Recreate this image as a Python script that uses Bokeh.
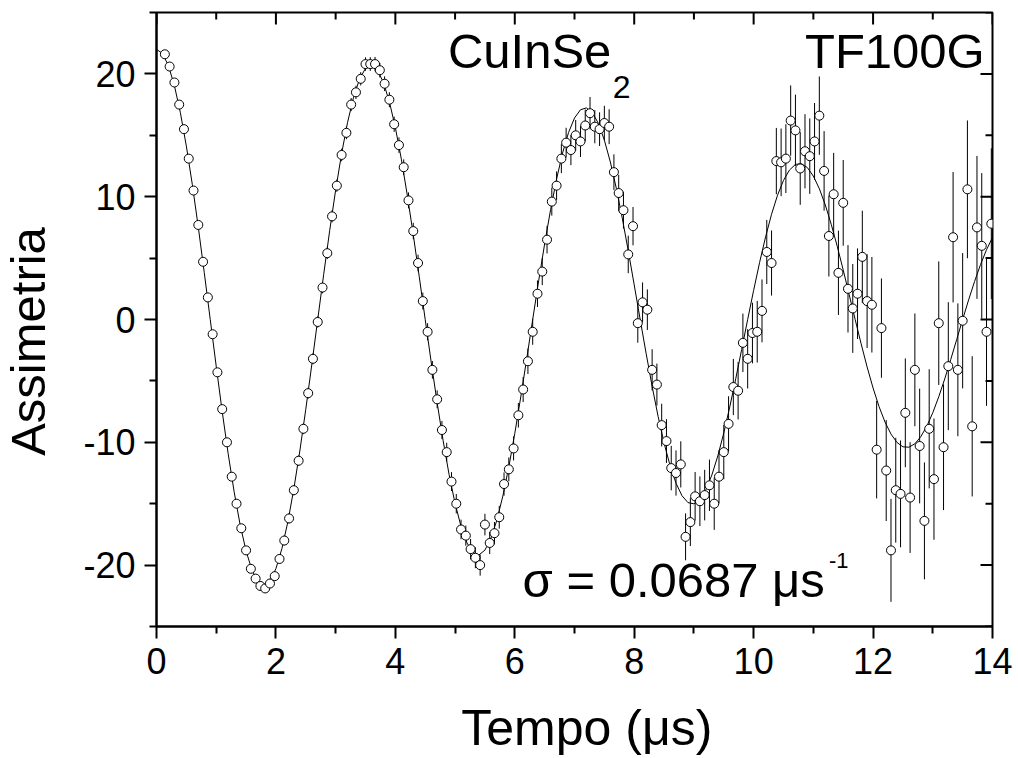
import math
from bokeh.plotting import figure
from bokeh.layouts import row, column
from bokeh.models import Range1d, FixedTicker, Label, ColumnDataSource
from bokeh.embed import file_html
from bokeh.resources import INLINE

# ---------------- data ----------------
time_us = [
    0.14, 0.22, 0.30, 0.38, 0.46, 0.54, 0.62, 0.70, 0.78, 0.86, 0.94, 1.02, 1.10, 1.18, 1.26,
    1.34, 1.42, 1.50, 1.58, 1.66, 1.74, 1.82, 1.90, 1.98, 2.06, 2.14, 2.22, 2.30, 2.38, 2.46,
    2.54, 2.62, 2.70, 2.78, 2.86, 2.94, 3.02, 3.10, 3.18, 3.26, 3.34, 3.42, 3.50, 3.58, 3.66,
    3.74, 3.82, 3.90, 3.98, 4.06, 4.14, 4.22, 4.30, 4.38, 4.46, 4.54, 4.62, 4.70, 4.78,
    4.86, 4.94, 5.02, 5.10, 5.18, 5.26, 5.34, 5.42, 5.50, 5.58, 5.66, 5.74, 5.82, 5.90, 5.98,
    6.06, 6.14, 6.22, 6.30, 6.38, 6.46, 6.54, 6.62, 6.70, 6.78, 6.86, 6.94, 7.02, 7.10,
    7.18, 7.26, 7.34, 7.42, 7.50, 7.58, 7.66, 7.74, 7.82, 7.90, 7.98, 8.06, 8.14, 8.22, 8.30,
    8.38, 8.46, 8.54, 8.62, 8.70, 8.78, 8.86, 8.94, 9.02, 9.10, 9.18, 9.26, 9.34, 9.42,
    9.50, 9.58, 9.66, 9.74, 9.82, 9.90, 9.98, 10.06, 10.14, 10.22, 10.30, 10.38, 10.46, 10.54, 10.62,
    10.70, 10.78, 10.86, 10.94, 11.02, 11.10, 11.18, 11.26, 11.34, 11.42, 11.50, 11.58, 11.66, 11.74,
    11.82, 11.90, 11.98, 12.06, 12.14, 12.22, 12.30, 12.38, 12.46, 12.54, 12.62, 12.70, 12.78, 12.86,
    12.94, 13.02, 13.10, 13.18, 13.26, 13.34, 13.42, 13.50, 13.58, 13.66, 13.74, 13.82, 13.90, 13.98,
]
asymmetry = [
    21.6, 20.6, 19.3, 17.5, 15.5, 13.1, 10.5, 7.7, 4.7, 1.8, -1.2, -4.3, -7.3, -10.0, -12.8,
    -15.0, -17.0, -18.8, -20.3, -21.1, -21.7, -21.9, -21.5, -20.9, -19.5, -18.0, -16.2, -13.9, -11.5, -8.9,
    -6.0, -3.2, -0.2, 2.6, 5.4, 8.4, 10.9, 13.4, 15.2, 17.5, 18.5, 19.6, 20.8, 20.8, 20.8,
    20.3, 19.2, 17.9, 15.9, 14.2, 12.4, 9.7, 7.2, 4.6, 1.5, -1.0, -4.1, -6.5, -9.0,
    -10.8, -13.2, -15.0, -17.1, -17.6, -18.7, -19.4, -20.0, -16.7, -18.2, -17.4, -16.1, -13.4, -12.2, -10.5,
    -7.8, -5.7, -3.4, -1.0, 2.1, 3.9, 6.5, 9.6, 10.9, 13.1, 14.4, 13.8, 15.0, 14.5,
    15.8, 16.8, 15.7, 15.5, 16.0, 15.7, 12.0, 10.3, 8.9, 5.3, 7.6, -0.3, 1.4, 0.8, -4.1,
    -5.3, -8.6, -9.9, -12.1, -12.5, -11.8, -17.7, -16.5, -14.4, -14.8, -14.3, -13.5, -15.0, -12.8,
    -10.8, -8.5, -5.5, -5.8, -1.9, -3.2, -1.1, -1.0, 0.7, 5.5, 4.6, 12.9, 12.8, 13.1, 16.2,
    15.4, 12.3, 13.7, 13.3, 14.5, 16.6, 12.1, 6.8, 10.2, 3.8, 9.5, 2.5, 0.9, 2.1,
    5.1, 1.5, 1.2, -10.6, -0.7, -12.3, -18.8, -13.9, -14.2, -7.6, -14.5, -4.1, -10.3, -16.4,
    -8.9, -13.0, -0.3, -10.4, -3.8, 6.7, -4.1, -0.1, 10.6, -8.7, 7.5, 6.0, -1.0, 7.8,
]
asym_error = [
    0.26, 0.26, 0.27, 0.27, 0.28, 0.28, 0.29, 0.29, 0.30, 0.30, 0.31, 0.31, 0.32, 0.33, 0.33,
    0.34, 0.34, 0.35, 0.36, 0.36, 0.37, 0.38, 0.38, 0.39, 0.40, 0.41, 0.41, 0.42, 0.43, 0.44,
    0.45, 0.45, 0.46, 0.47, 0.48, 0.49, 0.50, 0.51, 0.52, 0.53, 0.54, 0.54, 0.55, 0.56, 0.58,
    0.59, 0.60, 0.61, 0.62, 0.63, 0.64, 0.65, 0.67, 0.68, 0.69, 0.70, 0.72, 0.73, 0.74,
    0.76, 0.77, 0.79, 0.80, 0.82, 0.83, 0.85, 0.86, 0.88, 0.90, 0.91, 0.93, 0.95, 0.97, 0.98,
    1.00, 1.02, 1.04, 1.06, 1.08, 1.10, 1.12, 1.14, 1.16, 1.18, 1.21, 1.23, 1.25, 1.27,
    1.30, 1.32, 1.35, 1.37, 1.40, 1.42, 1.45, 1.48, 1.50, 1.53, 1.56, 1.59, 1.62, 1.65, 1.68,
    1.71, 1.74, 1.78, 1.81, 1.84, 1.88, 1.91, 1.95, 1.98, 2.02, 2.06, 2.09, 2.13, 2.17,
    2.21, 2.25, 2.29, 2.34, 2.38, 2.42, 2.47, 2.51, 2.56, 2.61, 2.65, 2.70, 2.75, 2.80, 2.86,
    2.91, 2.96, 3.02, 3.07, 3.13, 3.19, 3.24, 3.30, 3.37, 3.43, 3.49, 3.56, 3.62, 3.69,
    3.76, 3.82, 3.89, 3.97, 4.04, 4.11, 4.19, 4.27, 4.35, 4.43, 4.51, 4.59, 4.67, 4.76,
    4.85, 4.94, 5.03, 5.12, 5.21, 5.31, 5.41, 5.51, 5.61, 5.71, 5.82, 5.92, 6.03, 6.14,
]
fit_time = [
    0.0, 0.1, 0.2, 0.3, 0.4, 0.5, 0.6, 0.7, 0.8, 0.9, 1.0, 1.1, 1.2, 1.3, 1.4, 1.5, 1.6, 1.7, 1.8, 1.9,
    2.0, 2.1, 2.2, 2.3, 2.4, 2.5, 2.6, 2.7, 2.8, 2.9, 3.0, 3.1, 3.2, 3.3, 3.4, 3.5, 3.6, 3.7, 3.8, 3.9,
    4.0, 4.1, 4.2, 4.3, 4.4, 4.5, 4.6, 4.7, 4.8, 4.9, 5.0, 5.1, 5.2, 5.3, 5.4, 5.5, 5.6, 5.7, 5.8, 5.9,
    6.0, 6.1, 6.2, 6.3, 6.4, 6.5, 6.6, 6.7, 6.8, 6.9, 7.0, 7.1, 7.2, 7.3, 7.4, 7.5, 7.6, 7.7, 7.8, 7.9,
    8.0, 8.1, 8.2, 8.3, 8.4, 8.5, 8.6, 8.7, 8.8, 8.9, 9.0, 9.1, 9.2, 9.3, 9.4, 9.5, 9.6, 9.7, 9.8, 9.9,
    10.0, 10.1, 10.2, 10.3, 10.4, 10.5, 10.6, 10.7, 10.8, 10.9, 11.0, 11.1, 11.2, 11.3, 11.4, 11.5,
    11.6, 11.7, 11.8, 11.9, 12.0, 12.1, 12.2, 12.3, 12.4, 12.5, 12.6, 12.7, 12.8, 12.9, 13.0, 13.1,
    13.2, 13.3, 13.4, 13.5, 13.6, 13.7, 13.8, 13.9, 14.0,
]
fit_asym = [
    22.00, 21.66, 20.67, 19.04, 16.84, 14.12, 10.98, 7.51, 3.81, 0.00,
    -3.80, -7.48, -10.93, -14.03, -16.70, -18.85, -20.43, -21.37, -21.67, -21.30,
    -20.29, -18.66, -16.47, -13.79, -10.71, -7.31, -3.70, 0.00, 3.68, 7.23,
    10.54, 13.51, 16.06, 18.10, 19.58, 20.45, 20.70, 20.31, 19.31, 17.73,
    15.63, 13.06, 10.12, 6.90, 3.49, 0.00, -3.46, -6.78, -9.87, -12.63,
    -14.98, -16.85, -18.20, -18.98, -19.17, -18.78, -17.83, -16.34, -14.38, -12.00,
    -9.28, -6.31, -3.19, 0.00, 3.15, 6.16, 8.96, 11.44, 13.55, 15.22,
    16.41, 17.08, 17.23, 16.85, 15.97, 14.61, 12.83, 10.69, 8.25, 5.60,
    2.82, 0.00, -2.78, -5.44, -7.89, -10.06, -11.89, -13.33, -14.35, -14.91,
    -15.01, -14.66, -13.87, -12.67, -11.11, -9.24, -7.12, -4.83, -2.43, 0.00,
    2.38, 4.65, 6.73, 8.57, 10.12, 11.33, 12.17, 12.63, 12.69, 12.37,
    11.68, 10.65, 9.33, 7.74, 5.96, 4.03, 2.02, 0.00, -1.98, -3.86,
    -5.58, -7.09, -8.35, -9.33, -10.01, -10.37, -10.40, -10.12, -9.54, -8.69,
    -7.59, -6.29, -4.84, -3.27, -1.64, 0.00, 1.60, 3.10, 4.48, 5.68, 6.68,
]
x_ticks = [0, 2, 4, 6, 8, 10, 12, 14]
x_tick_labels = ["0", "2", "4", "6", "8", "10", "12", "14"]
x_minor = [1, 3, 5, 7, 9, 11, 13]
y_ticks = [-20, -10, 0, 10, 20]
y_tick_labels = ["-20", "-10", "0", "10", "20"]
y_minor = [-25, -15, -5, 5, 15, 25]
x_limits = [0, 14]
y_limits = [-25, 25]

x_title = "Tempo (μs)"
y_title = "Assimetria"
sample_text = "CuInSe"
sample_sub = "2"
field_text = "TF100G"
sigma_text = "σ = 0.0687 μs"
sigma_sup = "-1"

FONT = "Liberation Sans"

# page geometry (pixels)
PAGE_W, PAGE_H = 1018, 758
YLAB_W = 80            # strip on the left holding the y title
XLAB_H = 60            # strip at the bottom holding the x title
MAIN_W = PAGE_W - YLAB_W
MAIN_H = PAGE_H - XLAB_H

# ---------------- main figure ----------------
p = figure(width=MAIN_W, height=MAIN_H,
           x_range=Range1d(*x_limits), y_range=Range1d(*y_limits),
           output_backend="svg", toolbar_location=None,
           min_border_left=155 - YLAB_W, min_border_right=26,
           min_border_top=12, min_border_bottom=MAIN_H - 626)
p.outline_line_color = "black"
p.outline_line_width = 2
p.xgrid.visible = False
p.ygrid.visible = False
p.background_fill_color = "white"
p.border_fill_color = "white"

def style_axis(ax, ticks, minor, labels, standoff):
    ax.ticker = FixedTicker(ticks=ticks, minor_ticks=minor)
    ax.axis_line_width = 2
    ax.axis_line_color = "black"
    ax.major_tick_line_width = 2
    ax.minor_tick_line_width = 2
    ax.major_tick_line_color = "black"
    ax.minor_tick_line_color = "black"
    ax.major_tick_out, ax.major_tick_in = 12, 0
    ax.minor_tick_out, ax.minor_tick_in = 7, 0
    ax.major_label_text_font = FONT
    ax.major_label_text_font_size = "36px"
    ax.major_label_text_color = "black"
    ax.major_label_standoff = standoff
    ax.major_label_overrides = {t: s for t, s in zip(ticks, labels)}

style_axis(p.xaxis[0], x_ticks, x_minor, x_tick_labels, standoff=9)
style_axis(p.yaxis[0], y_ticks, y_minor, y_tick_labels, standoff=9)

# inward ticks on the top and right frame edges (half of each dash is clipped by the frame)
top_y = y_limits[1]
right_x = x_limits[1]
p.scatter(x=x_ticks, y=[top_y] * len(x_ticks), marker="dash", angle=math.pi / 2,
          size=24, line_color="black", line_width=2)
p.scatter(x=x_minor, y=[top_y] * len(x_minor), marker="dash", angle=math.pi / 2,
          size=14, line_color="black", line_width=2)
p.scatter(x=[right_x] * len(y_ticks), y=y_ticks, marker="dash",
          size=24, line_color="black", line_width=2)
p.scatter(x=[right_x] * len(y_minor), y=y_minor, marker="dash",
          size=14, line_color="black", line_width=2)

# data with error bars and fitted curve
src = ColumnDataSource(dict(
    t=time_us, a=asymmetry,
    lo=[a - e for a, e in zip(asymmetry, asym_error)],
    hi=[a + e for a, e in zip(asymmetry, asym_error)],
))
p.segment(x0="t", y0="lo", x1="t", y1="hi", source=src, line_color="black", line_width=1)
p.line(fit_time, fit_asym, line_color="black", line_width=1)
p.scatter(x="t", y="a", source=src, marker="circle", size=9,
          fill_color="white", line_color="black", line_width=1)

def add_label(fig, x, y, text, size, align="left", angle=0.0):
    fig.add_layout(Label(x=x, y=y, text=text, text_font=FONT, text_font_size=size,
                         text_align=align, text_baseline="alphabetic", angle=angle,
                         text_color="black"))

add_label(p, 4.88, 21.9, sample_text, "49px")
add_label(p, 7.64, 18.93, sample_sub, "32px")
add_label(p, 13.87, 21.9, field_text, "49px", align="right")
add_label(p, 6.13, -21.25, sigma_text, "49px")
add_label(p, 11.26, -19.63, sigma_sup, "22px")

# ---------------- strips for the axis titles ----------------
def blank_strip(w, h):
    f = figure(width=w, height=h, x_range=Range1d(0, w), y_range=Range1d(0, h),
               output_backend="svg", toolbar_location=None,
               x_axis_location=None, y_axis_location=None, min_border=0)
    f.grid.visible = False
    f.outline_line_color = None
    f.background_fill_color = "white"
    f.border_fill_color = "white"
    return f

ylab = blank_strip(YLAB_W, PAGE_H)
# strip coordinates are pixels, y measured upward from the strip bottom
add_label(ylab, 27, PAGE_H - 341, y_title, "49px", align="center", angle=math.pi / 2)

xlab = blank_strip(MAIN_W, XLAB_H)
add_label(xlab, 342, PAGE_H - 727, x_title, "50px", align="left")

layout = row(ylab, column(p, xlab, spacing=0), spacing=0)

open("out.html", "w").write(file_html(layout, INLINE))
